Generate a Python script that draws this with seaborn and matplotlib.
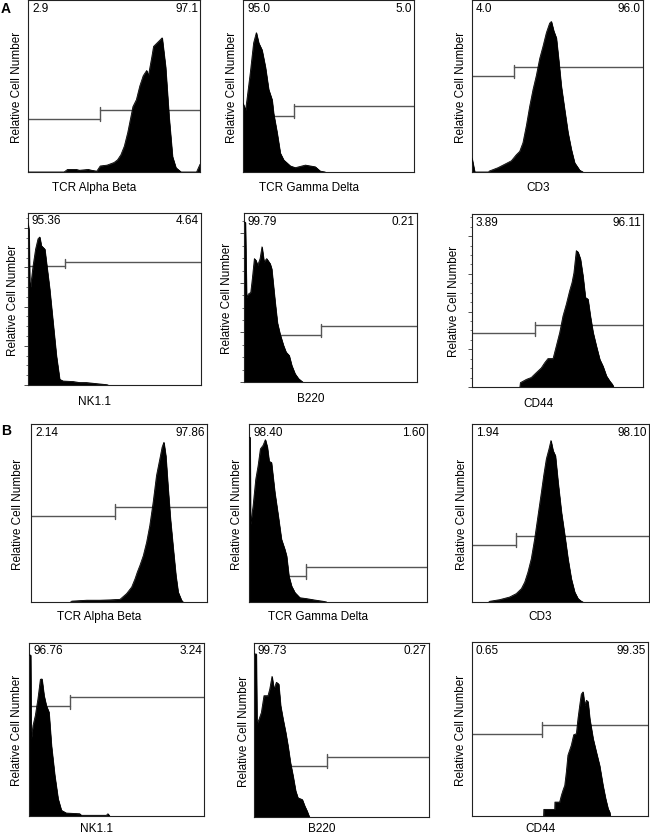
"""
Flow cytometry histograms, panels A and B (6 markers each)
"""

import numpy as np
import matplotlib.pyplot as plt
from matplotlib.ticker import MultipleLocator
import seaborn as sns

sns.set_style("white")
plt.rcParams['font.family'] = ['Liberation Sans', 'DejaVu Sans']
plt.rcParams['text.color'] = 'black'

# ── Data (x and y in % of axis range) ────────────────────────────────────────
markers = ["TCR Alpha Beta", "TCR Gamma Delta", "CD3", "NK1.1", "B220", "CD44"] * 2
left_pct = ["2.9", "95.0", "4.0", "95.36", "99.79", "3.89",
            "2.14", "98.40", "1.94", "96.76", "99.73", "0.65"]
right_pct = ["97.1", "5.0", "96.0", "4.64", "0.21", "96.11",
             "97.86", "1.60", "98.10", "3.24", "0.27", "99.35"]
gate_x = [41.9, 30.0, 24.6, 21.6, 44.6, 36.6, 47.7, 31.8, 24.7, 23.2, 41.7, 39.8]
gate_left_y = [30.9, 32.8, 56.0, 69.3, 28.1, 31.1, 48.2, 14.6, 32.3, 63.5, 29.4, 46.9]
gate_right_y = [36.3, 38.2, 61.0, 71.7, 33.1, 36.1, 53.3, 19.7, 37.2, 68.7, 34.7, 52.5]

a_tcrab_x = [0, 21, 23, 28, 30, 35, 37, 40, 42, 46, 50, 52, 54, 56, 58, 61, 63, 65, 67,
             69, 70, 72, 73, 75, 77, 78, 80, 82, 84, 86, 89, 98, 100]
a_tcrab_y = [0, 0, 1.5, 1.5, 1, 1.5, 1, 0.5, 3.5, 4, 5.5, 7, 10, 15, 23, 38, 42, 50, 56,
             59, 56, 67, 73, 75, 77, 78, 61, 32, 9, 2.5, 0, 0, 4.5]
a_tcrgd_x = [0, 1.5, 2.3, 4.3, 6.2, 7.8, 9.2, 11.1, 13.1, 15.0, 17.0, 17.9, 19.9, 21.8,
             23.8, 27.7, 30.6, 36.5, 42.3, 45.2, 48.1]
a_tcrgd_y = [40, 36, 42, 58, 75, 81, 75, 71, 61, 48, 42, 34, 23, 11, 7, 3.5, 2.5, 4, 3, 0.5, 0]
a_cd3_x = [0, 1, 1.6, 9.9, 10, 15.2, 20.1, 23, 25.9, 27.9, 29.8, 31.8, 33.7, 35.7, 37.6,
           39.6, 41.5, 43.5, 45.4, 46.4, 47.8, 49.3, 50.9, 52.2, 54.2, 56.1, 58.1, 60.0,
           63.0, 64.9]
a_cd3_y = [8, 3, 0, 0, 0.5, 2.5, 5, 6.5, 10, 12, 17, 27, 38, 48, 56, 66, 73, 81, 86.5,
           87.5, 82, 78, 63, 50, 36, 23, 13, 5.4, 1, 0]
a_nk_x = [0, 0.6, 1, 1.5, 2.9, 4.4, 5.8, 6.8, 7.7, 9.7, 10.6, 12.5, 14.5, 16.4, 18.3,
          20.3, 26.1, 29.9, 33.8, 37.6, 45.4, 46.3]
a_nk_y = [94, 90, 60, 57, 69, 79, 85, 86, 81, 79, 71.5, 56, 36, 17, 3.3, 2.3, 2, 1.4,
          1.4, 1, 0.2, 0]
a_b220_x = [0, 0.8, 1.5, 2.5, 3.9, 4.8, 6.0, 6.9, 7.9, 9.3, 10.4, 11.6, 13.1, 15.1, 16.0,
            17.0, 18.0, 19.3, 20.8, 22.8, 24.3, 26.1, 27.6, 29.5, 31.5, 33.4, 34.0]
a_b220_y = [94.5, 94.5, 50, 52, 53, 61, 73, 72, 69, 73, 80, 71, 73, 70, 67, 57, 47, 35,
            28.5, 21.7, 17.7, 15.7, 9.8, 4.9, 2, 0.4, 0]
a_cd44_x = [28.0, 28.3, 31.8, 34.7, 35.7, 37.6, 40.5, 42.5, 44.4, 47.4, 49.3, 51.3, 53.2,
            55.2, 57.1, 58.5, 59.6, 61.0, 62.0, 63.4, 64.9, 66.3, 67.8, 69.2, 70.8, 72.7,
            74.7, 76.6, 78.6, 80.5, 82.1, 82.8]
a_cd44_y = [0, 2.5, 4.4, 5.5, 6.5, 8.3, 11, 14, 16.4, 16.4, 23.7, 31.5, 41, 48, 55.6, 60.4,
            66, 78.8, 78, 74, 64, 51.7, 50.8, 41, 31.5, 23.7, 16, 12, 6.4, 3.5, 1.5, 0]

b_tcrab_x = [22.5, 23.2, 31.7, 39.2, 44.9, 50.6, 54.3, 57.2, 59.1, 60.4, 61.9, 63.8, 65.7,
             67.5, 69.4, 71.3, 73.2, 74.5, 75.5, 76.6, 77.9, 79.2, 80.8, 82.3, 83.6, 85.5,
             86.4]
b_tcrab_y = [0, 0.5, 1, 1, 1.2, 1.5, 4.7, 8.4, 13, 16.8, 20.6, 26, 33.6, 43, 56, 71, 80.4,
             87, 89.7, 82, 63.6, 46.7, 30, 15, 5.6, 1, 0]
b_tcrgd_x = [0, 0.6, 0.9, 2.3, 3.8, 5.1, 6.4, 7.9, 9.2, 10.3, 11.3, 12.6, 14.5, 16.4, 18.2,
             20.1, 21.1, 22.4, 23.9, 25.8, 28.6, 32.3, 37.0, 41.7, 43.6]
b_tcrgd_y = [92.5, 92.5, 43.7, 54, 69, 76.5, 86, 88, 91.2, 87, 79, 78.4, 61.5, 48.4, 35.3,
             29.6, 25.9, 14.6, 9, 5.3, 2.4, 1.9, 1.1, 0.4, 0]
b_cd3_x = [9.5, 10, 15.6, 21.3, 25, 27.9, 29.8, 31.6, 33.5, 35.4, 37.3, 39.2, 40.5, 42,
           43.5, 44.6, 45.8, 47.1, 48.6, 50.5, 52.4, 54.2, 56.1, 58, 59.9, 61.8, 62.7]
b_cd3_y = [0, 0.4, 1.3, 2.8, 4.7, 7.5, 11.2, 16.8, 24.3, 35.5, 48.6, 61.7, 71, 80.4, 86,
           90.7, 85, 82.2, 67.3, 50.5, 37.4, 24.3, 13, 5.6, 1.9, 0.4, 0]
b_nk_x = [0, 0.95, 1.3, 2.3, 3.6, 5.1, 6.5, 7.4, 8.6, 9.9, 11.4, 12.8, 14.7, 16.6, 18.5,
          21.3, 29.0, 29.9, 44.2, 45.1, 46.1]
b_nk_y = [93, 93, 44.6, 52.3, 58, 67.7, 79, 79.2, 69.6, 63.8, 60, 40.8, 23.5, 10, 3.3,
          1.7, 1.3, 0.4, 0.4, 1.3, 0]
b_b220_x = [0, 1.3, 1.7, 2.9, 4.2, 5.7, 8.0, 9.0, 10.3, 11.4, 12.8, 14.1, 15.2, 16.6, 18.1,
            19.4, 20.8, 22.3, 23.8, 25.1, 27.6, 29.0, 30.3, 31.4, 31.8]
b_b220_y = [93.7, 93.7, 53.4, 56.2, 60, 69.7, 69.7, 73.5, 80.8, 73.5, 77.4, 76.4, 64, 56.2,
            48.6, 40.9, 31.3, 23.6, 15, 11, 10, 6.3, 3.5, 0.6, 0]
b_cd44_x = [40.7, 40.8, 47.0, 47.1, 49.8, 50.8, 51.7, 52.7, 53.6, 54.5, 56.4, 57.8, 59.3,
            60.2, 61.2, 62.1, 63.1, 64.0, 65.0, 65.9, 66.9, 68.8, 70.6, 72.5, 74.4, 75.9,
            77.3, 78.2, 78.6]
b_cd44_y = [0, 3.8, 3.8, 8, 8, 11.9, 14.8, 17.6, 25.3, 34.9, 40.6, 46.7, 47.3, 55.9, 63.6,
            70, 71.3, 63.6, 66.5, 65.7, 55.9, 44.4, 36.8, 29, 17.6, 10, 4.2, 2.3, 0]

hist_x = [a_tcrab_x, a_tcrgd_x, a_cd3_x, a_nk_x, a_b220_x, a_cd44_x,
          b_tcrab_x, b_tcrgd_x, b_cd3_x, b_nk_x, b_b220_x, b_cd44_x]
hist_y = [a_tcrab_y, a_tcrgd_y, a_cd3_y, a_nk_y, a_b220_y, a_cd44_y,
          b_tcrab_y, b_tcrgd_y, b_cd3_y, b_nk_y, b_b220_y, b_cd44_y]

# ── Layout (pixel boxes: left, right, top, bottom) ───────────────────────────
W, H = 650, 837
boxes = [(28, 200, 1, 173), (243, 414, 1, 173), (472, 643, 1, 173),
         (28, 201, 214, 386), (244, 417, 214, 383), (472, 643, 215, 388),
         (31, 207, 425, 603), (249, 427, 425, 603), (472, 649, 425, 603),
         (29, 204, 644, 817), (254, 429, 644, 818), (472, 648, 643, 817)]
ylab_off = [11, 11, 11, 15, 17, 18, 13, 12, 10, 12, 10, 11]
xlab_off = [15, 15, 15, 16, 16, 16, 14, 14, 14, 12, 11, 12]
tick_step = {3: 22.8, 4: 29.3, 5: 21.8}
FS = 8.5
GATE = '#555555'

fig = plt.figure(figsize=(W / 100, H / 100), dpi=100)

for i, (l, r, t, b) in enumerate(boxes):
    w, h = r - l, b - t
    ax = fig.add_axes([l / W, 1 - b / H, w / W, h / H])
    ax.fill_between(hist_x[i], hist_y[i], 0, facecolor='black', edgecolor='black',
                    lw=0.5, zorder=2)
    sns.lineplot(x=hist_x[i], y=hist_y[i], color='black', lw=0.6, sort=False,
                 estimator=None, ax=ax, zorder=3)

    # gate bar
    gx, yl, yr = gate_x[i], gate_left_y[i], gate_right_y[i]
    ax.plot([0, gx], [yl, yl], color=GATE, lw=1, zorder=1)
    ax.plot([gx, 100], [yr, yr], color=GATE, lw=1, zorder=1)
    ax.plot([gx, gx], [min(yl, yr) - 1.5, max(yl, yr) + 1.5], color=GATE, lw=1, zorder=1)

    ax.set_xlim(0, 100)
    ax.set_ylim(0, 100)
    ax.set_xticks([])
    if i in tick_step:
        ax.yaxis.set_major_locator(MultipleLocator(tick_step[i]))
        ax.yaxis.set_minor_locator(MultipleLocator(tick_step[i] / 4))
        ax.tick_params(axis='y', which='major', left=True, length=3, width=0.6,
                       direction='out', color='#333333', labelleft=False)
        ax.tick_params(axis='y', which='minor', left=True, length=1.8, width=0.5,
                       direction='out', color='#333333')
    else:
        ax.set_yticks([])
    for s in ax.spines.values():
        s.set_color('#222222')
        s.set_linewidth(0.8)

    ax.text(4 / w, 1 - 1.5 / h, left_pct[i], transform=ax.transAxes,
            ha='left', va='top', fontsize=FS)
    ax.text(1 - 2 / w, 1 - 1.5 / h, right_pct[i], transform=ax.transAxes,
            ha='right', va='top', fontsize=FS)
    ax.text(0.387, -xlab_off[i] / h, markers[i], transform=ax.transAxes,
            ha='center', va='center', fontsize=FS)
    ax.text(-ylab_off[i] / w, 0.5, "Relative Cell Number", transform=ax.transAxes,
            ha='center', va='center', rotation=90, fontsize=FS)

fig.text(1 / W, 1 - 2 / H, "A", fontsize=10, fontweight='bold', ha='left', va='top')
fig.text(1 / W, 1 - 424 / H, "B", fontsize=10, fontweight='bold', ha='left', va='top')

plt.savefig('out.png', dpi=100)
plt.close()
